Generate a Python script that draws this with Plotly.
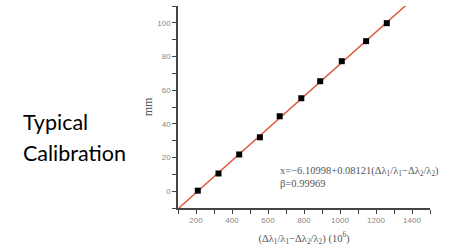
import plotly.graph_objects as go

# Data
ratio_x = [210, 325, 440, 555, 665, 785, 890, 1010, 1145, 1260]
mm_y = [0.3, 10.5, 21.8, 32, 44.5, 55.2, 65.3, 77.2, 89.1, 99.8]
fit_x = [105, 1370]
fit_y = [-10, 110.8]

x_ticks = [200, 400, 600, 800, 1000, 1200, 1400]
y_ticks = [0, 20, 40, 60, 80, 100]

eq_text = "x=−6.10998+0.08121(Δλ<sub>1</sub>/λ<sub>1</sub>−Δλ<sub>2</sub>/λ<sub>2</sub>)"
beta_text = "β=0.99969"
xlabel = "(Δλ<sub>1</sub>/λ<sub>1</sub>−Δλ<sub>2</sub>/λ<sub>2</sub>) (10<sup>6</sup>)"
side_lines = ["Typical", "Calibration"]

L, R, T, B = 178, 20, 6, 42
PW, PH = 450 - L - R, 250 - T - B

def px(x):
    return (x - L) / PW

def py(y):
    return (250 - B - y) / PH

fig = go.Figure()
fig.add_trace(go.Scatter(x=fit_x, y=fit_y, mode="lines",
                         line=dict(color="#dc5a3c", width=1.5),
                         showlegend=False, hoverinfo="skip"))
fig.add_trace(go.Scatter(x=ratio_x, y=mm_y, mode="markers",
                         marker=dict(symbol="square", size=6, color="black"),
                         showlegend=False))

axis_common = dict(showgrid=False, zeroline=False, showline=True,
                   linecolor="#444", linewidth=1.5, ticks="outside",
                   ticklen=4, tickcolor="#444", tickwidth=1.2,
                   tickfont=dict(family="Liberation Sans, Arial", size=8, color="#888"))

fig.update_xaxes(range=[100, 1500], tickvals=x_ticks,
                 minor=dict(dtick=100, tick0=100, ticks="outside", ticklen=4,
                            tickcolor="#444", tickwidth=1.2),
                 title=dict(text=xlabel, font=dict(family="Liberation Serif, Times New Roman", size=10.5, color="#555"),
                            standoff=10),
                 **axis_common)
fig.update_yaxes(range=[-10, 110], tickvals=y_ticks,
                 minor=dict(dtick=10, tick0=-10, ticks="outside", ticklen=4,
                            tickcolor="#444", tickwidth=1.2),
                 title=dict(text="mm", font=dict(family="Liberation Serif, Times New Roman", size=12, color="#555"),
                            standoff=2),
                 **axis_common)

for txt, yc in [(eq_text, 171), (beta_text, 183)]:
    fig.add_annotation(xref="paper", yref="paper", x=px(278), y=py(yc),
                       xanchor="left", yanchor="middle", showarrow=False, align="left",
                       text=txt,
                       font=dict(family="Liberation Serif, Times New Roman", size=10.5, color="#555"))

for txt, yc in zip(side_lines, [122, 153]):
    fig.add_annotation(xref="paper", yref="paper", x=px(21), y=py(yc),
                       xanchor="left", yanchor="middle", showarrow=False, align="left",
                       text=txt,
                       font=dict(family="Lato, Open Sans", size=21.5, color="black"))

fig.update_layout(width=450, height=250, margin=dict(l=L, r=R, t=T, b=B),
                  plot_bgcolor="white", paper_bgcolor="white")

fig.write_html("out.html")
